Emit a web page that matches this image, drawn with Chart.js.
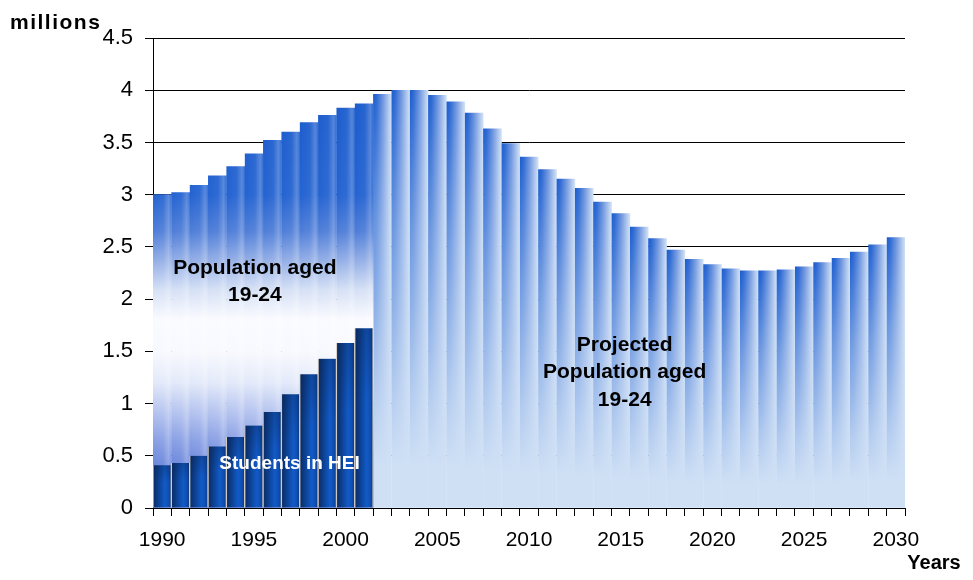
<!DOCTYPE html>
<html lang="en">
<head>
<meta charset="UTF-8">
<title>Population aged 19-24 and students in HEI</title>
<script src="https://cdn.jsdelivr.net/npm/chart.js"></script>
<style>
    html, body {
        margin: 0;
        padding: 0;
        background: #fff;
    }
    .chart-box {
        position: relative;
        width: 973px;
        height: 580px;
    }
</style>
</head>
<body>
<div class="chart-box">
    <canvas id="popChart" width="973" height="580"></canvas>
</div>
<script>
    // Data (millions)
    const years = [1990, 1991, 1992, 1993, 1994, 1995, 1996, 1997, 1998, 1999,
                   2000, 2001, 2002, 2003, 2004, 2005, 2006, 2007, 2008, 2009,
                   2010, 2011, 2012, 2013, 2014, 2015, 2016, 2017, 2018, 2019,
                   2020, 2021, 2022, 2023, 2024, 2025, 2026, 2027, 2028, 2029, 2030];
    // 1990-2001
    const populationActual = [3.00, 3.02, 3.09, 3.18, 3.27, 3.39, 3.52, 3.60, 3.69, 3.76, 3.83, 3.87];
    // 2002-2030
    const populationProjected = [3.96, 4.00, 4.00, 3.95, 3.89, 3.78, 3.63, 3.49, 3.36, 3.24,
                                 3.15, 3.06, 2.93, 2.82, 2.69, 2.58, 2.47, 2.38, 2.33, 2.29,
                                 2.27, 2.27, 2.28, 2.31, 2.35, 2.39, 2.45, 2.52, 2.59];
    // 1990-2001
    const studentsHEI = [0.41, 0.43, 0.50, 0.59, 0.68, 0.79, 0.92, 1.09, 1.28, 1.43, 1.58, 1.72];
    const yTicks = [0, 0.5, 1, 1.5, 2, 2.5, 3, 3.5, 4, 4.5];

    const nHist = populationActual.length;
    const histSeries = years.map((y, i) => i < nHist ? populationActual[i] : null);
    const projSeries = years.map((y, i) => i >= nHist ? populationProjected[i - nHist] : null);
    const studentSeries = years.map((y, i) => i < studentsHEI.length ? studentsHEI[i] : null);

    Chart.defaults.font.family = "'Liberation Sans', Arial, sans-serif";
    Chart.defaults.color = '#000';

    // geometry of one bar, taken from the chart scales
    function barBox(chart, index, value) {
        const xs = chart.scales.x, ys = chart.scales.y;
        const w = xs.width / years.length;
        const cx = xs.getPixelForValue(index);
        return { left: cx - w / 2, width: w, top: ys.getPixelForValue(value), base: ys.getPixelForValue(0) };
    }

    // fill a bar with a small painted canvas (lets us combine horizontal + vertical shading)
    function barPattern(chart, box, paint) {
        const off = document.createElement('canvas');
        off.width = Math.ceil(box.width) + 2;
        off.height = chart.height;
        const c = off.getContext('2d');
        paint(c, off.width, off.height, box);
        const pat = chart.ctx.createPattern(off, 'no-repeat');
        pat.setTransform(new DOMMatrix().translate(box.left, 0));
        return pat;
    }

    function paintHistory(chart) {
        const ys = chart.scales.y;
        return (c, w, h, box) => {
            const top = ys.getPixelForValue(4), bottom = ys.getPixelForValue(0);
            const g = c.createLinearGradient(0, top, 0, bottom);
            const stop = (v, col) => g.addColorStop((4 - v) / 4, col);
            stop(4.0, '#1a5bcc');
            stop(3.0, '#2463d1');
            stop(2.65, '#4f7ed8');
            stop(2.37, '#93aee6');
            stop(2.09, '#d5e0f5');
            stop(1.8, '#fafbff');
            stop(1.5, '#f8f9fe');
            stop(1.2, '#e2e9f9');
            stop(0.94, '#b8c6f0');
            stop(0.65, '#8aa0e4');
            stop(0.4, '#6a86dc');
            stop(0.0, '#5674d6');
            c.fillStyle = g;
            c.fillRect(0, 0, w, h);
            const s = c.createLinearGradient(0, 0, box.width, 0);
            s.addColorStop(0, 'rgba(255,255,255,0)');
            s.addColorStop(0.55, 'rgba(255,255,255,0.05)');
            s.addColorStop(0.85, 'rgba(255,255,255,0.25)');
            s.addColorStop(1, 'rgba(255,255,255,0.1)');
            c.fillStyle = s;
            c.fillRect(0, 0, w, h);
        };
    }

    function paintProjected(c, w, h, box) {
        const g = c.createLinearGradient(0, 0, box.width, 0);
        g.addColorStop(0, '#1a5cce');
        g.addColorStop(0.2, '#2e6ad3');
        g.addColorStop(0.55, '#7399e0');
        g.addColorStop(0.85, '#b3caee');
        g.addColorStop(1, '#d2e2f6');
        c.fillStyle = g;
        c.fillRect(0, 0, w, h);
        const v = c.createLinearGradient(0, box.top, 0, box.base);
        v.addColorStop(0, 'rgba(207,224,245,0)');
        v.addColorStop(0.35, 'rgba(207,224,245,0.45)');
        v.addColorStop(0.7, 'rgba(207,224,245,0.82)');
        v.addColorStop(0.9, 'rgba(207,224,245,1)');
        v.addColorStop(1, 'rgba(207,224,245,1)');
        c.fillStyle = v;
        c.fillRect(0, 0, w, h);
    }

    function paintStudents(c, w, h, box) {
        const g = c.createLinearGradient(0, 0, box.width, 0);
        g.addColorStop(0, '#0a2a60');
        g.addColorStop(0.3, '#0d4192');
        g.addColorStop(0.65, '#125bc8');
        g.addColorStop(0.88, '#0f4cae');
        g.addColorStop(1, '#0b3272');
        c.fillStyle = g;
        c.fillRect(0, 0, w, h);
        const v = c.createLinearGradient(0, box.top, 0, box.base);
        v.addColorStop(0, 'rgba(8,30,70,0.3)');
        v.addColorStop(0.4, 'rgba(8,30,70,0)');
        v.addColorStop(1, 'rgba(8,30,70,0)');
        c.fillStyle = v;
        c.fillRect(0, 0, w, h);
    }

    function scriptedFill(makePainter, fallback) {
        return function(context) {
            const chart = context.chart;
            if (context.type !== 'data' || context.raw == null || !chart.chartArea) {
                return fallback;
            }
            const box = barBox(chart, context.dataIndex, context.raw);
            return barPattern(chart, box, makePainter(chart));
        };
    }

    // Labels written onto the plot
    const textPlugin = {
        id: 'chartText',
        afterDraw(chart) {
            const c = chart.ctx;
            const xs = chart.scales.x, ys = chart.scales.y;
            c.save();
            c.textBaseline = 'middle';
            c.textAlign = 'center';
            c.fillStyle = '#000';
            c.font = "bold 21px 'Liberation Sans', Arial, sans-serif";
            const px = xs.getPixelForValue(5) + 1;
            c.fillText('Population aged', px, ys.getPixelForValue(2.3));
            c.fillText('19-24', px, ys.getPixelForValue(2.04));
            const qx = xs.getPixelForValue(25) + 4;
            c.fillText('Projected', qx, ys.getPixelForValue(1.56));
            c.fillText('Population aged', qx, ys.getPixelForValue(1.30));
            c.fillText('19-24', qx, ys.getPixelForValue(1.03));
            c.fillStyle = '#fff';
            c.font = "bold 19px 'Liberation Sans', Arial, sans-serif";
            c.fillText('Students in HEI', xs.getPixelForValue(7) - 1, ys.getPixelForValue(0.42));
            // axis captions
            c.fillStyle = '#000';
            c.font = "bold 21px 'Liberation Sans', Arial, sans-serif";
            c.textAlign = 'left';
            c.letterSpacing = '1.5px';
            c.fillText('millions', 10, 23);
            c.letterSpacing = '0px';
            c.font = "bold 20px 'Liberation Sans', Arial, sans-serif";
            c.textAlign = 'center';
            c.fillText('Years', 934, 563);
            c.restore();
        }
    };

    const ctx = document.getElementById('popChart').getContext('2d');
    const popChart = new Chart(ctx, {
        type: 'bar',
        data: {
            labels: years,
            datasets: [
                {
                    label: 'Students in HEI',
                    data: studentSeries,
                    order: 0,
                    grouped: false,
                    backgroundColor: scriptedFill(() => paintStudents, '#0e3f8f'),
                    borderColor: '#d4cdc2',
                    borderWidth: { left: 1, right: 1, top: 0, bottom: 0 },
                    categoryPercentage: 1,
                    barPercentage: 1
                },
                {
                    label: 'Population aged 19-24',
                    data: histSeries,
                    order: 1,
                    grouped: false,
                    backgroundColor: scriptedFill(paintHistory, '#2463d1'),
                    borderWidth: 0,
                    categoryPercentage: 1,
                    barPercentage: 1
                },
                {
                    label: 'Projected Population aged 19-24',
                    data: projSeries,
                    order: 2,
                    grouped: false,
                    backgroundColor: scriptedFill(() => paintProjected, '#7399e0'),
                    borderWidth: 0,
                    categoryPercentage: 1,
                    barPercentage: 1
                }
            ]
        },
        options: {
            responsive: false,
            animation: false,
            devicePixelRatio: 1,
            layout: {
                padding: { top: 38, right: 68, left: 0, bottom: 0 }
            },
            plugins: {
                legend: { display: false },
                tooltip: { enabled: false }
            },
            scales: {
                x: {
                    type: 'category',
                    offset: true,
                    grid: {
                        offset: true,
                        drawOnChartArea: false,
                        drawTicks: true,
                        tickLength: 8,
                        color: '#000',
                        lineWidth: 1
                    },
                    border: { display: true, color: '#000', width: 1 },
                    ticks: {
                        autoSkip: false,
                        maxRotation: 0,
                        padding: 12,
                        font: { size: 21 },
                        color: '#000',
                        callback: (val, i) => years[i] % 5 === 0 ? String(years[i]) : ''
                    },
                    afterFit(scale) {
                        scale.height = 72;
                    }
                },
                y: {
                    min: 0,
                    max: 4.5,
                    afterBuildTicks(scale) {
                        scale.ticks = yTicks.map(v => ({ value: v }));
                    },
                    grid: {
                        color: '#000',
                        lineWidth: 1,
                        drawTicks: true,
                        tickLength: 8
                    },
                    border: { display: true, color: '#000', width: 1 },
                    ticks: {
                        padding: 12,
                        font: { size: 22 },
                        color: '#000',
                        callback: v => String(v)
                    },
                    afterFit(scale) {
                        scale.width = 153;
                    }
                }
            }
        },
        plugins: [textPlugin]
    });
</script>
</body>
</html>
